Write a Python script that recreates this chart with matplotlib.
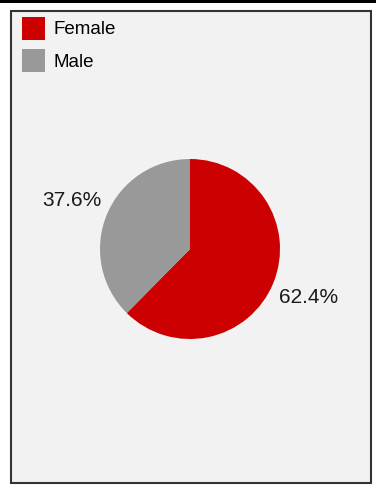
"""Gender split pie chart, framed panel with legend in the top-left corner."""

import matplotlib.pyplot as plt
from matplotlib.patches import Rectangle, Patch

plt.rcParams["font.family"] = ["Liberation Sans", "DejaVu Sans"]

labels = ["Female", "Male"]
shares = [62.4, 37.6]
colors = ["#cc0000", "#999999"]

W, H = 376, 494
fig = plt.figure(figsize=(W / 100, H / 100), dpi=100)
fig.patch.set_facecolor("white")

# panel background and dark frame
fig.patches.append(
    Rectangle((11 / W, 1 - 483 / H), 360 / W, 472 / H, transform=fig.transFigure,
              facecolor="#f2f2f2", edgecolor="#333333", linewidth=1.5, zorder=-2)
)
# thick black rule along the top edge
fig.patches.append(
    Rectangle((0, 1 - 3 / H), 1, 3 / H, transform=fig.transFigure,
              facecolor="black", edgecolor="none", zorder=-2)
)

# pie axes: center (190, 249), radius 90 px
ax = fig.add_axes([100 / W, 1 - 339 / H, 180 / W, 180 / H])
ax.set_facecolor("none")
wedges, _, autotexts = ax.pie(
    shares,
    colors=colors,
    startangle=90,
    counterclock=False,
    autopct=lambda p: f"{p:.1f}%",
    pctdistance=1.42,
    radius=1.0,
    wedgeprops={"linewidth": 0},
    textprops={"fontsize": 15, "color": "#1a1a1a"},
)
ax.set_xlim(-1, 1)
ax.set_ylim(-1, 1)
ax.set_aspect("equal")
ax.axis("off")

handles = [Patch(facecolor=c, edgecolor="none") for c in colors]
fig.legend(
    handles,
    labels,
    loc="upper left",
    bbox_to_anchor=(18 / W, 1 - 13 / H),
    frameon=False,
    fontsize=13.5,
    handlelength=1.25,
    handleheight=1.5,
    handletextpad=0.45,
    labelspacing=0.5,
    borderaxespad=0,
    borderpad=0.2,
)

fig.savefig("out.png", dpi=100)
plt.close(fig)
